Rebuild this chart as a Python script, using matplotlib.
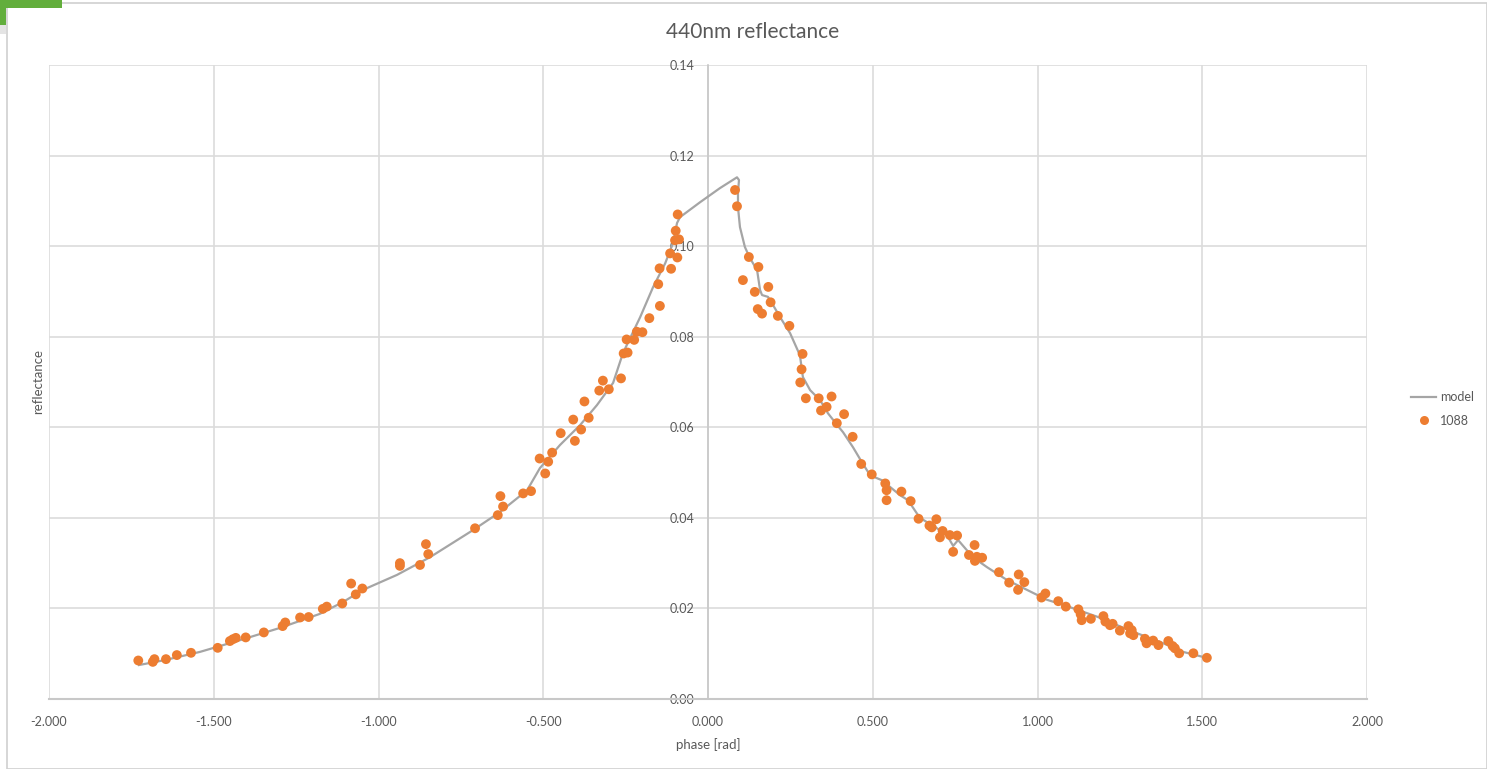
import matplotlib
matplotlib.use("Agg")
import matplotlib.pyplot as plt
from matplotlib.patches import Rectangle
from matplotlib.ticker import FuncFormatter
from matplotlib.lines import Line2D

plt.rcParams['font.family'] = ['Lato', 'DejaVu Sans']

# ---- data ----
model_phase = [-1.727, -1.648, -1.542, -1.420, -1.299, -1.178, -1.108, -1.047, -0.944, -0.844,
               -0.713, -0.631, -0.549, -0.510, -0.449, -0.388, -0.337, -0.288, -0.258, -0.206,
               -0.167, -0.130, -0.106, -0.094, -0.085, -0.024, 0.036, 0.088, 0.094, 0.091,
               0.091, 0.097, 0.112, 0.127, 0.149, 0.158, 0.164, 0.182, 0.194, 0.219,
               0.249, 0.279, 0.288, 0.310, 0.340, 0.364, 0.392, 0.410, 0.440, 0.467,
               0.492, 0.528, 0.583, 0.607, 0.643, 0.689, 0.725, 0.744, 0.759, 0.804,
               0.847, 0.907, 0.968, 1.029, 1.078, 1.180, 1.281, 1.382, 1.442, 1.513]
model_refl = [0.0075, 0.0086, 0.0104, 0.0130, 0.0157, 0.0188, 0.0214, 0.0241, 0.0274, 0.0313,
              0.0373, 0.0413, 0.0461, 0.0510, 0.0561, 0.0605, 0.0649, 0.0698, 0.0764, 0.0843,
              0.0909, 0.0962, 0.1007, 0.1051, 0.1064, 0.1097, 0.1128, 0.1152, 0.1146, 0.1117,
              0.1086, 0.1042, 0.0998, 0.0974, 0.0947, 0.0903, 0.0892, 0.0888, 0.0874, 0.0843,
              0.0808, 0.0759, 0.0711, 0.0682, 0.0660, 0.0631, 0.0605, 0.0589, 0.0556, 0.0523,
              0.0494, 0.0483, 0.0450, 0.0439, 0.0400, 0.0380, 0.0362, 0.0338, 0.0351, 0.0313,
              0.0291, 0.0263, 0.0241, 0.0219, 0.0208, 0.0182, 0.0151, 0.0123, 0.0104, 0.0091]

obs_phase = [-1.729, -1.685, -1.680, -1.645, -1.612, -1.569, -1.488, -1.451, -1.442, -1.433,
             -1.403, -1.348, -1.291, -1.283, -1.238, -1.212, -1.169, -1.157, -1.110, -1.083,
             -1.069, -1.049, -0.935, -0.935, -0.874, -0.856, -0.849, -0.707, -0.638, -0.630,
             -0.622, -0.561, -0.537, -0.511, -0.494, -0.485, -0.473, -0.447, -0.409, -0.404,
             -0.385, -0.375, -0.362, -0.330, -0.319, -0.301, -0.264, -0.256, -0.244, -0.247,
             -0.224, -0.216, -0.199, -0.178, -0.146, -0.151, -0.147, -0.112, -0.115, -0.093,
             -0.100, -0.088, -0.098, -0.092,
             0.082, 0.088,
             0.124, 0.153, 0.106, 0.142, 0.183, 0.151, 0.164, 0.190, 0.212, 0.247,
             0.287, 0.284, 0.280, 0.297, 0.336, 0.375, 0.343, 0.360, 0.413, 0.391,
             0.439, 0.465, 0.497, 0.538, 0.542, 0.542, 0.587, 0.615, 0.639, 0.672,
             0.693, 0.679, 0.704, 0.712, 0.734, 0.744, 0.756, 0.792, 0.809, 0.810,
             0.832, 0.816, 0.883, 0.914, 0.943, 0.960, 0.941, 1.012, 1.024, 1.063,
             1.086, 1.124, 1.131, 1.134, 1.162, 1.200, 1.206, 1.220, 1.228, 1.250,
             1.276, 1.281, 1.291, 1.286, 1.326, 1.331, 1.351, 1.367, 1.397, 1.410,
             1.417, 1.430, 1.473, 1.514]
obs_refl = [0.0085, 0.0082, 0.0088, 0.0088, 0.0097, 0.0102, 0.0113, 0.0128, 0.0132, 0.0135,
            0.0136, 0.0147, 0.0161, 0.0169, 0.0180, 0.0181, 0.0199, 0.0204, 0.0211, 0.0255,
            0.0231, 0.0244, 0.0300, 0.0294, 0.0296, 0.0342, 0.0320, 0.0377, 0.0406, 0.0448,
            0.0425, 0.0454, 0.0459, 0.0531, 0.0498, 0.0524, 0.0544, 0.0587, 0.0617, 0.0570,
            0.0595, 0.0657, 0.0621, 0.0681, 0.0703, 0.0684, 0.0708, 0.0763, 0.0765, 0.0794,
            0.0793, 0.0811, 0.0810, 0.0841, 0.0868, 0.0916, 0.0951, 0.0950, 0.0984, 0.0975,
            0.1013, 0.1015, 0.1034, 0.1070,
            0.1124, 0.1088,
            0.0976, 0.0954, 0.0925, 0.0899, 0.0910, 0.0861, 0.0851, 0.0876, 0.0846, 0.0824,
            0.0762, 0.0728, 0.0699, 0.0664, 0.0664, 0.0668, 0.0637, 0.0645, 0.0629, 0.0609,
            0.0579, 0.0519, 0.0496, 0.0476, 0.0461, 0.0439, 0.0458, 0.0437, 0.0398, 0.0383,
            0.0397, 0.0379, 0.0357, 0.0371, 0.0362, 0.0325, 0.0361, 0.0318, 0.0340, 0.0305,
            0.0312, 0.0314, 0.0280, 0.0257, 0.0275, 0.0258, 0.0241, 0.0224, 0.0233, 0.0216,
            0.0204, 0.0198, 0.0187, 0.0174, 0.0177, 0.0183, 0.0171, 0.0163, 0.0166, 0.0151,
            0.0161, 0.0145, 0.0141, 0.0152, 0.0133, 0.0123, 0.0129, 0.0119, 0.0128, 0.0117,
            0.0112, 0.0101, 0.0101, 0.0091]

x_ticks = [-2.0, -1.5, -1.0, -0.5, 0.0, 0.5, 1.0, 1.5, 2.0]
y_ticks = [0.00, 0.02, 0.04, 0.06, 0.08, 0.10, 0.12, 0.14]

W, H = 1487, 769
fig = plt.figure(figsize=(W / 100, H / 100), dpi=100)
fig.patch.set_facecolor('white')

txt = '#595959'
grid_c = '#dcdcdc'

# chart frame and green tab
frame = Rectangle((7 / W, 0), 1 - 7 / W, 1 - 3 / H, transform=fig.transFigure,
                  facecolor='none', edgecolor='#d0d0d0', linewidth=1.2, zorder=5)
fig.patches.append(frame)
fig.patches.append(Rectangle((0, 1 - 8 / H), 62 / W, 8 / H, transform=fig.transFigure,
                             facecolor='#62AE3C', edgecolor='none', zorder=6))
fig.patches.append(Rectangle((0, 1 - 25 / H), 6 / W, 25 / H, transform=fig.transFigure,
                             facecolor='#62AE3C', edgecolor='none', zorder=6))
fig.patches.append(Rectangle((0, 1 - 34 / H), 6 / W, 9 / H, transform=fig.transFigure,
                             facecolor='#e4e4e4', edgecolor='none', zorder=6))

ax = fig.add_axes([49 / W, 1 - 699 / H, (1367 - 49) / W, (699 - 65) / H])
ax.set_zorder(2)
ax.set_xlim(-2.0, 2.0)
ax.set_ylim(0.0, 0.14)
ax.set_xticks(x_ticks)
ax.set_yticks(y_ticks)
ax.xaxis.set_major_formatter(FuncFormatter(lambda v, p: f"{v:.3f}"))
ax.yaxis.set_major_formatter(FuncFormatter(lambda v, p: f"{v:.2f}"))
ax.grid(True, color=grid_c, linewidth=1.2, zorder=0)
ax.set_axisbelow(True)

for s in ['top', 'right']:
    ax.spines[s].set_visible(False)
ax.spines['left'].set_position(('data', 0))
ax.spines['left'].set_color('#c8c8c8')
ax.spines['left'].set_linewidth(1.2)
ax.spines['bottom'].set_color('#c8c8c8')
ax.spines['bottom'].set_linewidth(1.5)

ax.tick_params(axis='both', length=0, labelsize=9, labelcolor=txt)
ax.tick_params(axis='x', pad=12)
ax.tick_params(axis='y', pad=10)

ax.plot(model_phase, model_refl, color='#A5A5A5', linewidth=1.6, zorder=3, label='model')
ax.scatter(obs_phase, obs_refl, s=50, color='#ED7D31', edgecolors='none', zorder=4, label='1088')

fig.text(753 / W, 1 - 32 / H, '440nm reflectance', ha='center', va='center',
         fontsize=15, color=txt)
fig.text(708 / W, 1 - 745 / H, 'phase [rad]', ha='center', va='center',
         fontsize=9.5, color=txt)
fig.text(38 / W, 1 - 382 / H, 'reflectance', ha='center', va='center', rotation=90,
         fontsize=9.5, color=txt)

handles = [Line2D([], [], color='#A5A5A5', linewidth=1.6),
           Line2D([], [], color='#ED7D31', marker='o', linestyle='none', markersize=6.5,
                  markeredgewidth=0)]
fig.legend(handles, ['model', '1088'], loc='center left',
           bbox_to_anchor=(1400 / W, 1 - 409 / H), frameon=False, fontsize=9,
           labelcolor=txt, handlelength=2.0, handletextpad=0.3, labelspacing=0.9)

fig.savefig('out.png', dpi=100, facecolor='white')
